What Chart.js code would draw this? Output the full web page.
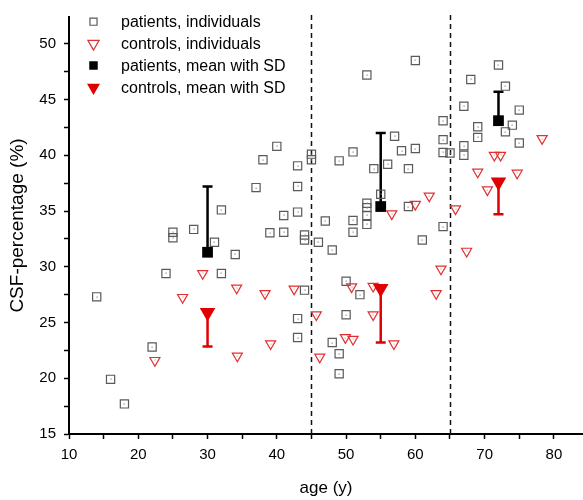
<!DOCTYPE html>
<html>
<head>
<meta charset="utf-8">
<script src="https://cdn.jsdelivr.net/npm/chart.js@4.4.1/dist/chart.umd.min.js"></script>
<style>
  html, body { margin: 0; padding: 0; background: #fff; }
</style>
</head>
<body>
<canvas id="chart" width="583" height="500"></canvas>
<script>
// individual patients
const patientAge = [14, 16, 18, 22, 24, 25, 25, 28, 31, 32, 32, 34, 37, 38, 39, 40, 41, 41,
  43, 43, 43, 43, 43, 44, 44, 44, 45, 45, 46, 47, 48, 48, 49, 49, 49, 50, 50, 51, 51, 51, 52,
  53, 53, 53, 53, 53, 54, 55, 56, 57, 58, 59, 59, 60, 60, 61, 64, 64, 64, 64, 65, 67, 67, 67,
  68, 69, 69, 72, 73, 73, 74, 75, 75];
const patientCsf = [27.3, 19.9, 17.7, 22.8, 29.4, 33.1, 32.6, 33.35, 32.2, 35.1, 29.4, 31.1, 37.1, 39.6, 33.05, 40.8, 34.6, 33.1,
  39.05, 37.2, 34.9, 25.35, 23.65, 32.85, 32.4, 27.9, 40.1, 39.6, 32.2, 34.1, 31.5, 23.2, 39.5, 22.2, 20.4, 28.7, 25.7, 40.3, 34.15, 33.1, 27.5,
  47.2, 35.7, 35.3, 34.6, 33.8, 38.8, 36.5, 39.2, 41.7, 40.4, 38.8, 35.4, 48.5, 40.6, 32.4, 43.1, 41.4, 40.25, 33.6, 40.2, 44.4, 40.85, 40.0,
  46.8, 42.55, 41.6, 48.1, 46.2, 42.1, 42.7, 44.05, 41.1];

// individual controls
const controlAge = [22.4, 26.4, 29.3, 34.2, 34.3, 38.3, 39.1, 42.5, 45.7, 46.2, 49.9, 50.8, 51.0, 53.9, 53.9,
  56.6, 56.9, 60.0, 62.0, 63.0, 63.7, 65.8, 67.4, 69.0, 70.4, 71.4, 72.3, 74.7, 78.3];
const controlCsf = [21.6, 27.25, 29.4, 28.1, 22.0, 27.6, 23.1, 28.0, 25.7, 21.9, 23.65, 28.2, 23.5, 28.25, 25.7,
  34.75, 23.1, 35.6, 36.35, 27.6, 29.8, 35.2, 31.4, 38.5, 36.9, 40.0, 40.0, 38.4, 41.5];

// group means
const groupAge = [30, 55, 72];
const patientMean = [31.3, 35.4, 43.1];
const patientSd = [5.9, 6.6, 2.6];
const controlMean = [25.9, 28.05, 37.6];
const controlSd = [3.05, 4.85, 2.9];

const groupLimits = [45, 65];
const xTicks = [10, 20, 30, 40, 50, 60, 70, 80];
const yTicks = [15, 20, 25, 30, 35, 40, 45, 50];
const legendLabels = ['patients, individuals', 'controls, individuals', 'patients, mean with SD', 'controls, mean with SD'];

const FONT = "'Liberation Sans', Arial, sans-serif";
Chart.defaults.font.family = FONT;
Chart.defaults.color = '#000';

const toPoints = (xs, ys) => xs.map((v, i) => ({x: v, y: ys[i]}));

// error bars + age group limits
const errorBars = {
    id: 'errorBars',
    beforeDatasetsDraw(chart) {
        const {ctx, chartArea, scales: {x, y}} = chart;
        ctx.save();
        ctx.strokeStyle = '#111';
        ctx.lineWidth = 1.5;
        ctx.setLineDash([5, 4]);
        groupLimits.forEach(a => {
            const px = Math.round(x.getPixelForValue(a)) + 0.5;
            ctx.beginPath();
            ctx.moveTo(px, chartArea.top - 2);
            ctx.lineTo(px, chartArea.bottom);
            ctx.stroke();
        });
        ctx.setLineDash([]);
        ctx.lineWidth = 2.5;
        const bars = (means, sds, dir, color) => {
            ctx.strokeStyle = color;
            means.forEach((m, i) => {
                const px = x.getPixelForValue(groupAge[i]);
                const y0 = y.getPixelForValue(m);
                const y1 = y.getPixelForValue(m + dir * sds[i]);
                ctx.beginPath();
                ctx.moveTo(px, y0);
                ctx.lineTo(px, y1);
                ctx.moveTo(px - 5, y1);
                ctx.lineTo(px + 5, y1);
                ctx.stroke();
            });
        };
        bars(patientMean, patientSd, 1, '#000');
        bars(controlMean, controlSd, -1, '#e00000');
        ctx.restore();
    }
};

// small centre dot inside the open symbols
const centreDots = {
    id: 'centreDots',
    afterDatasetsDraw(chart) {
        const {ctx} = chart;
        ctx.save();
        [[0, '#888'], [1, '#f0a0a0']].forEach(([idx, color]) => {
            ctx.fillStyle = color;
            chart.getDatasetMeta(idx).data.forEach(pt => {
                ctx.fillRect(Math.round(pt.x) - 0.5, Math.round(pt.y) - 0.5, 1.2, 1.2);
            });
        });
        ctx.restore();
    }
};

// legend drawn inside the plot, top left
const insideLegend = {
    id: 'insideLegend',
    afterDatasetsDraw(chart, args, opts) {
        const {ctx} = chart;
        ctx.save();
        ctx.font = '16px ' + FONT;
        ctx.textBaseline = 'middle';
        legendLabels.forEach((label, i) => {
            const ds = chart.data.datasets[i];
            const cy = opts.top + i * opts.rowHeight;
            ctx.fillStyle = ds.backgroundColor;
            ctx.strokeStyle = ds.borderColor;
            ctx.lineWidth = ds.borderWidth;
            Chart.helpers.drawPoint(ctx, {
                pointStyle: ds.pointStyle,
                radius: opts.radius[i],
                rotation: ds.rotation || 0,
                borderWidth: ds.borderWidth
            }, opts.markerX, cy);
            ctx.fillStyle = '#000';
            ctx.fillText(label, opts.textX, cy + 1);
        });
        ctx.restore();
    }
};

const data = {
    datasets: [{
        label: legendLabels[0],
        data: toPoints(patientAge, patientCsf),
        pointStyle: 'rect',
        pointRadius: 5.8,
        backgroundColor: 'rgba(255,255,255,0)',
        borderColor: '#5a5a5a',
        borderWidth: 1.2,
        order: 3
    }, {
        label: legendLabels[1],
        data: toPoints(controlAge, controlCsf),
        pointStyle: 'triangle',
        rotation: 180,
        pointRadius: 5.8,
        backgroundColor: 'rgba(255,255,255,0)',
        borderColor: '#e23030',
        borderWidth: 1.2,
        order: 2
    }, {
        label: legendLabels[2],
        data: toPoints(groupAge, patientMean),
        pointStyle: 'rect',
        pointRadius: 7.6,
        backgroundColor: '#000',
        borderColor: '#000',
        borderWidth: 0,
        order: 1
    }, {
        label: legendLabels[3],
        data: toPoints(groupAge, controlMean),
        pointStyle: 'triangle',
        rotation: 180,
        pointRadius: 9,
        backgroundColor: '#e00000',
        borderColor: '#e00000',
        borderWidth: 0,
        order: 0
    }]
};

const config = {
    type: 'scatter',
    data: data,
    options: {
        responsive: false,
        devicePixelRatio: 1,
        animation: false,
        events: [],
        layout: {autoPadding: false, padding: {top: 11, right: 0, left: 0, bottom: 0}},
        scales: {
            x: {
                type: 'linear',
                min: 10,
                max: 84.2,
                border: {display: true, color: '#000', width: 2},
                grid: {drawOnChartArea: false, drawTicks: true, tickLength: 5, tickColor: '#000', tickWidth: 1.5},
                ticks: {
                    stepSize: 5,
                    includeBounds: false,
                    autoSkip: false,
                    maxRotation: 0,
                    padding: 7,
                    color: '#000',
                    font: {size: 15},
                    callback: v => xTicks.includes(v) ? v : ''
                },
                title: {display: true, text: 'age (y)', color: '#000', font: {size: 17}, padding: {top: 0, bottom: 1}},
                afterFit: s => { s.height = 66; s.paddingRight = 0; }
            },
            y: {
                type: 'linear',
                min: 15,
                max: 52.4,
                border: {display: true, color: '#000', width: 2},
                grid: {drawOnChartArea: false, drawTicks: true, tickLength: 5, tickColor: '#000', tickWidth: 1.5},
                ticks: {
                    stepSize: 2.5,
                    includeBounds: false,
                    autoSkip: false,
                    padding: 8,
                    color: '#000',
                    font: {size: 15},
                    callback: v => yTicks.includes(v) ? v : ''
                },
                title: {display: true, text: 'CSF-percentage (%)', color: '#000', font: {size: 19}, padding: {top: 6, bottom: 0}},
                afterFit: s => { s.width = 69; }
            }
        },
        plugins: {
            legend: {display: false},
            tooltip: {enabled: false},
            insideLegend: {
                top: 21.7,
                rowHeight: 21.9,
                markerX: 93.5,
                textX: 121,
                radius: [5, 6.5, 6, 7.5]
            }
        }
    },
    plugins: [errorBars, centreDots, insideLegend]
};

const chart = new Chart(document.getElementById('chart').getContext('2d'), config);
</script>
</body>
</html>
